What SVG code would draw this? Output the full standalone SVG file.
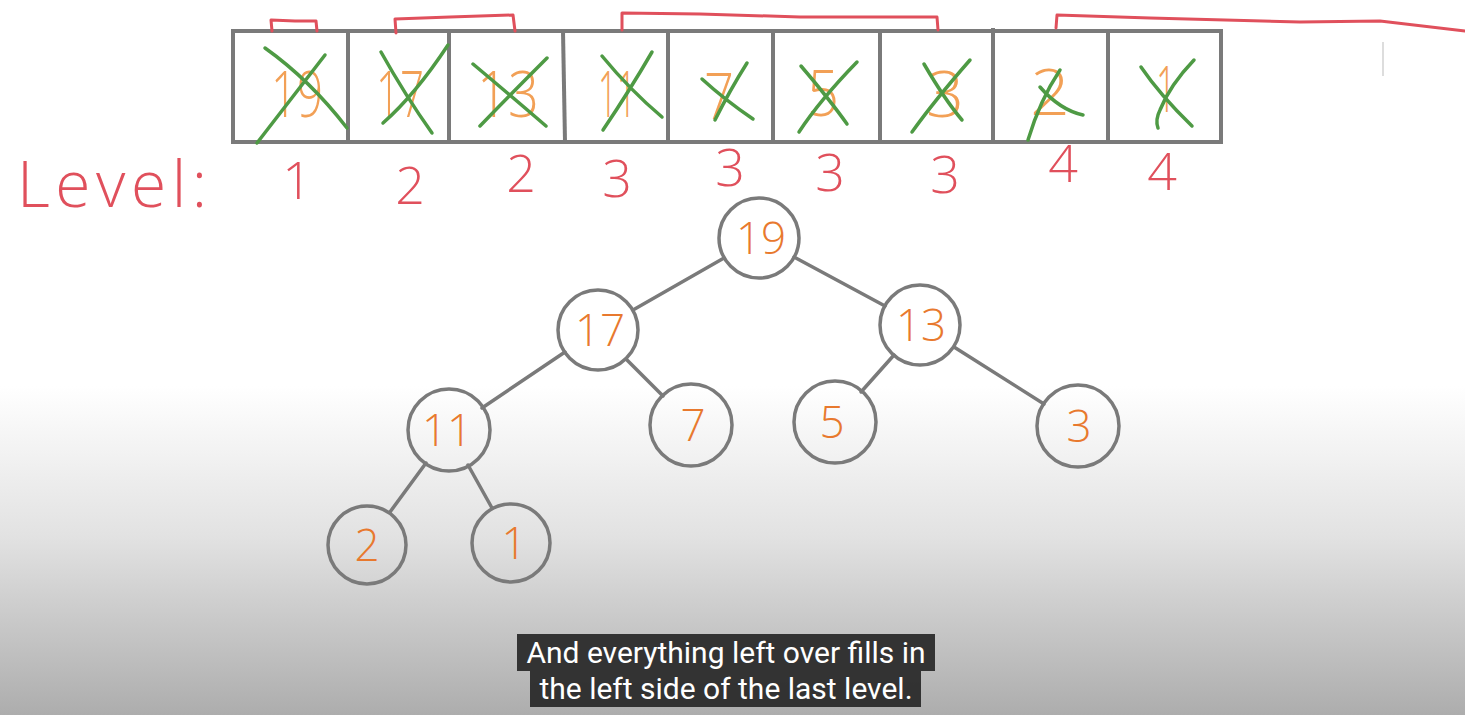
<svg xmlns="http://www.w3.org/2000/svg" width="1465" height="715" viewBox="0 0 1465 715">
<defs>
<linearGradient id="bg" x1="0" y1="0" x2="0" y2="715" gradientUnits="userSpaceOnUse">
<stop offset="0" stop-color="#ffffff"/>
<stop offset="0.54" stop-color="#ffffff"/>
<stop offset="0.75" stop-color="#e2e2e2"/>
<stop offset="1" stop-color="#adadad"/>
</linearGradient>
<style>
.box{fill:none;stroke:#7a7a7a;stroke-width:4}
.x{stroke:#4e9a44;stroke-width:3.5;stroke-linecap:round;fill:none}
.red{stroke:#e0505c;stroke-width:3;fill:none;stroke-linecap:round;stroke-linejoin:round}
.ad{font-family:"Open Sans","Liberation Sans",sans-serif;font-weight:300;fill:#f2a056;font-size:64px;text-anchor:middle}
.lv{font-family:"Open Sans","Liberation Sans",sans-serif;font-weight:300;fill:#e0505c;font-size:52px;text-anchor:middle}
.lvl{font-family:"Open Sans","Liberation Sans",sans-serif;font-weight:300;fill:#e0505c;font-size:64px;text-anchor:middle}
.node circle{fill:none;stroke:#7a7a7a;stroke-width:3.5}
.node text{font-family:"Open Sans","Liberation Sans",sans-serif;font-weight:300;fill:#e8792e;font-size:44px;text-anchor:middle}
.edges line{stroke:#7a7a7a;stroke-width:3.5;stroke-linecap:round}
.cap{font-family:Roboto,"Liberation Sans",sans-serif;font-size:30px;fill:#ffffff;text-anchor:middle}
</style>
</defs>
<rect width="1465" height="715" fill="url(#bg)"/>

<g id="array">
<rect class="box" x="233" y="31" width="988" height="111"/>
<line class="box" x1="348" y1="31" x2="348" y2="142"/>
<line class="box" x1="449" y1="31" x2="449" y2="142"/>
<line class="box" x1="563" y1="31" x2="565" y2="142"/>
<line class="box" x1="668" y1="31" x2="668" y2="142"/>
<line class="box" x1="773" y1="31" x2="773" y2="142"/>
<line class="box" x1="880" y1="31" x2="880" y2="142"/>
<line class="box" x1="993" y1="28" x2="993" y2="142"/>
<line class="box" x1="1108" y1="31" x2="1108" y2="142"/>
<text class="ad" x="297" y="117" textLength="52" lengthAdjust="spacingAndGlyphs">19</text>
<text class="ad" x="400" y="117" textLength="48" lengthAdjust="spacingAndGlyphs">17</text>
<text class="ad" x="508" y="117" textLength="62" lengthAdjust="spacingAndGlyphs">13</text>
<text class="ad" x="617" y="117" textLength="38" lengthAdjust="spacingAndGlyphs">11</text>
<text class="ad" x="719" y="119" textLength="30" lengthAdjust="spacingAndGlyphs">7</text>
<text class="ad" x="823" y="116" textLength="32" lengthAdjust="spacingAndGlyphs">5</text>
<text class="ad" x="945" y="117" textLength="38" lengthAdjust="spacingAndGlyphs">3</text>
<text class="ad" x="1050" y="115" textLength="40" lengthAdjust="spacingAndGlyphs">2</text>
<text class="ad" x="1166" y="112" textLength="20" lengthAdjust="spacingAndGlyphs">1</text>
<path class="x" d="M265,48 Q310,80 347,128 M325,55 Q290,100 257,143"/>
<path class="x" d="M381,52 Q405,95 432,133 M448,45 Q415,95 383,123"/>
<path class="x" d="M473,64 Q510,95 546,126 M547,58 Q510,95 480,126"/>
<path class="x" d="M602,56 Q630,90 662,117 M652,52 Q630,90 603,130"/>
<path class="x" d="M702,79 Q725,100 753,119 M747,63 Q730,90 715,120"/>
<path class="x" d="M799,132 Q820,100 857,62 M801,66 Q830,100 847,124"/>
<path class="x" d="M912,132 Q935,100 970,60 M924,64 Q945,100 962,120"/>
<path class="x" d="M1028,140 Q1040,100 1060,70 M1040,87 Q1060,110 1083,115"/>
<path class="x" d="M1141,67 Q1160,95 1192,126 M1194,60 Q1170,85 1160,110 Q1155,120 1158,128"/>
</g>

<g id="brackets">
<path class="red" d="M272,31 L271,20 L295,21 L316,21 L317,31"/>
<path class="red" d="M396,33 L395,19 L450,17 L513,15 L515,31"/>
<path class="red" d="M622,30 L622,13 L700,14 L800,17 L937,17 L938,30"/>
<path class="red" d="M1056,28 L1057,15 L1150,18 L1300,22 L1380,21 L1465,31"/>
</g>
<line x1="1383" y1="42" x2="1383" y2="76" stroke="#dddddd" stroke-width="2"/>

<g id="levels">
<text class="lvl" x="112" y="207" textLength="190" lengthAdjust="spacing">Level:</text>
<text class="lv" x="297" y="199">1</text>
<text class="lv" x="410" y="204">2</text>
<text class="lv" x="521" y="192">2</text>
<text class="lv" x="617" y="197">3</text>
<text class="lv" x="730" y="186">3</text>
<text class="lv" x="830" y="191">3</text>
<text class="lv" x="945" y="193">3</text>
<text class="lv" x="1063" y="182">4</text>
<text class="lv" x="1162" y="190">4</text>
</g>

<g id="edges" class="edges">
<line x1="724" y1="258" x2="633" y2="310"/>
<line x1="794" y1="257" x2="885" y2="306"/>
<line x1="565" y1="352" x2="482" y2="408"/>
<line x1="626" y1="359" x2="663" y2="396"/>
<line x1="894" y1="355" x2="861" y2="392"/>
<line x1="954" y1="347" x2="1044" y2="404"/>
<line x1="426" y1="463" x2="390" y2="512"/>
<line x1="468" y1="465" x2="492" y2="508"/>
</g>

<g id="n19" class="node"><circle cx="759" cy="238" r="40"/><text x="761" y="254">19</text></g>
<g id="n17" class="node"><circle cx="598" cy="330" r="40"/><text x="600" y="346">17</text></g>
<g id="n13" class="node"><circle cx="920" cy="325" r="40"/><text x="921" y="341">13</text></g>
<g id="n11" class="node"><circle cx="449" cy="430" r="41"/><text x="447" y="446">11</text></g>
<g id="n7" class="node"><circle cx="691" cy="425" r="41"/><text x="693" y="441">7</text></g>
<g id="n5" class="node"><circle cx="835" cy="422" r="41"/><text x="832" y="438">5</text></g>
<g id="n3" class="node"><circle cx="1078" cy="426" r="41"/><text x="1079" y="442">3</text></g>
<g id="n2" class="node"><circle cx="367" cy="545" r="39"/><text x="367" y="561">2</text></g>
<g id="n1" class="node"><circle cx="511" cy="543" r="39"/><text x="514" y="559">1</text></g>

<g id="caption">
<rect x="517" y="634" width="418" height="37" fill="#2b2b2b" fill-opacity="0.95"/>
<rect x="530" y="671" width="391" height="36" fill="#2b2b2b" fill-opacity="0.95"/>
<text class="cap" x="726" y="663">And everything left over fills in</text>
<text class="cap" x="726" y="699">the left side of the last level.</text>
</g>
</svg>
